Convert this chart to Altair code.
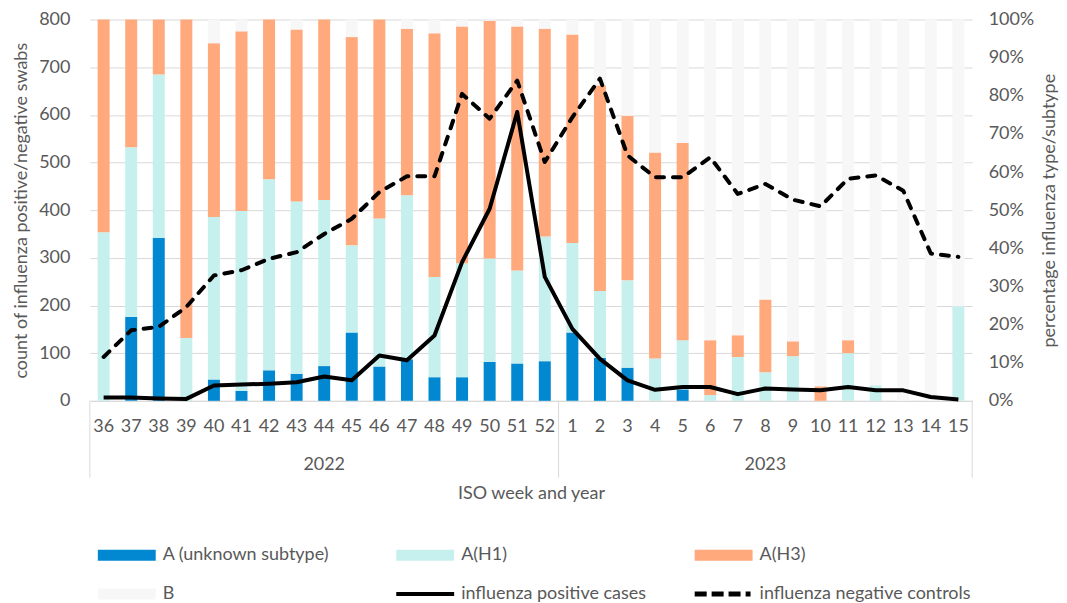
import altair as alt
import pandas as pd

# ---- data ----
weeks = ["36", "37", "38", "39", "40", "41", "42", "43", "44", "45", "46", "47", "48", "49", "50", "51", "52",
         "1", "2", "3", "4", "5", "6", "7", "8", "9", "10", "11", "12", "13", "14", "15"]
years = ["2022", "2023"]
year_mid_weeks = ["44", "8"]

# percentage of influenza type/subtype (right axis)
a_unknown = [0, 22.0, 42.7, 0, 5.6, 2.6, 8.0, 7.1, 9.1, 17.9, 9.0, 10.9, 6.2, 6.2, 10.2, 9.8, 10.4,
             17.9, 11.3, 8.7, 0, 3.0, 0, 0, 0, 0, 0, 0, 0, 0, 0, 0]
a_h1 = [44.2, 44.5, 42.9, 16.5, 42.6, 47.2, 50.1, 45.2, 43.6, 22.9, 38.8, 43.0, 26.3, 29.9, 27.1, 24.4, 32.7,
        23.5, 17.5, 22.9, 11.1, 12.9, 1.5, 11.5, 7.5, 11.7, 0, 12.5, 4.1, 0, 0, 24.8]
a_h3 = [55.8, 33.5, 14.4, 83.5, 45.6, 47.1, 41.9, 45.1, 47.3, 54.6, 52.2, 43.7, 63.9, 62.1, 62.4, 64.0, 54.5,
        54.7, 53.9, 43.2, 54.0, 51.7, 14.4, 5.7, 19.1, 3.9, 3.8, 3.4, 0, 0, 0, 0]
b_type = [0, 0, 0, 0, 6.2, 3.1, 0, 2.6, 0, 4.6, 0, 2.4, 3.6, 1.8, 0.3, 1.8, 2.4,
          3.9, 17.3, 25.2, 34.9, 32.4, 84.1, 82.8, 73.4, 84.4, 96.2, 84.1, 95.9, 100, 100, 75.2]

# counts (left axis)
positive_cases = [7, 7, 5, 4, 32, 34, 36, 39, 51, 43, 95, 85, 137, 291, 403, 606, 260,
                  151, 88, 43, 23, 29, 29, 14, 26, 24, 22, 29, 22, 22, 8, 3]
negative_controls = [92, 148, 155, 197, 263, 274, 298, 312, 350, 382, 438, 471, 471, 644, 592, 672, 501,
                     595, 676, 515, 469, 469, 511, 434, 455, 422, 408, 466, 473, 441, 309, 302]

bar_types = ["A (unknown subtype)", "A(H1)", "A(H3)", "B"]
line_names = ["influenza positive cases", "influenza negative controls"]
legend_names = bar_types + line_names
bar_colors = ["#0288D1", "#C5F0EE", "#FFA97C", "#F7F7F7"]
legend_colors = bar_colors + ["#000000", "#000000"]
legend_shapes = [
    "M-1,-0.38H3V0.38H-1Z",
    "M-1,-0.38H3V0.38H-1Z",
    "M-1,-0.38H3V0.38H-1Z",
    "M-1,-0.38H3V0.38H-1Z",
    "M-1,-0.14H3V0.14H-1Z",
    "M-1,-0.17H-0.17V0.17H-1Z M0.17,-0.17H1V0.17H0.17Z M1.34,-0.17H2.17V0.17H1.34Z M2.52,-0.17H2.86V0.17H2.52Z",
]

# ---- tables ----
rows = []
for i, w in enumerate(weeks):
    for k, (name, vals) in enumerate(zip(bar_types, [a_unknown, a_h1, a_h3, b_type])):
        rows.append({"week": w, "type": name, "pct": vals[i], "ord": k})
bars_df = pd.DataFrame(rows)
lines_df = pd.DataFrame({"week": weeks, "positive": positive_cases, "negative": negative_controls})
years_df = pd.DataFrame({"year": years, "mid": year_mid_weeks})
left_div_df = pd.DataFrame({"week": ["36", "1"]})
right_div_df = pd.DataFrame({"week": ["15"]})
legend_df = pd.DataFrame({"series": legend_names})

W, H = 884, 382
FONT = "Lato"
FS = 18
GREY = "#595959"
GRID = "#D9D9D9"

xscale = alt.Scale(domain=weeks, type="band", paddingInner=0, paddingOuter=0)

x_axis = alt.Axis(title="ISO week and year", labelAngle=0, ticks=False, labelPadding=17,
                  domainColor=GRID, labelFontSize=FS, titleFontSize=FS, titleFontWeight="normal",
                  labelColor=GREY, titleColor=GREY, titlePadding=49, labelFont=FONT, titleFont=FONT)

bars = alt.Chart(bars_df).mark_bar(size=12).encode(
    x=alt.X("week:N", scale=xscale, axis=x_axis),
    y=alt.Y("pct:Q", stack="zero",
            scale=alt.Scale(domain=[0, 100], nice=False),
            axis=alt.Axis(orient="right", values=list(range(0, 101, 10)), labelExpr="datum.value + '%'",
                          title="percentage influenza type/subtype", titleAngle=270, grid=False,
                          domain=False, ticks=False, labelPadding=16, titlePadding=25,
                          labelFontSize=FS, titleFontSize=FS, titleFontWeight="normal",
                          labelColor=GREY, titleColor=GREY, labelFont=FONT, titleFont=FONT)),
    color=alt.Color("type:N", scale=alt.Scale(domain=bar_types, range=bar_colors), legend=None),
    order=alt.Order("ord:Q", sort="ascending"),
)

left_y = alt.Axis(orient="left", values=list(range(0, 801, 100)), title="count of influenza positive/negative swabs",
                  grid=True, gridColor=GRID, domain=False, ticks=False, labelPadding=20, titlePadding=8,
                  labelFontSize=FS, titleFontSize=FS, titleFontWeight="normal",
                  labelColor=GREY, titleColor=GREY, labelFont=FONT, titleFont=FONT)
yscale = alt.Scale(domain=[0, 800], nice=False)

pos_line = alt.Chart(lines_df).mark_line(color="black", strokeWidth=4, strokeJoin="round").encode(
    x=alt.X("week:N", scale=xscale, axis=x_axis),
    y=alt.Y("positive:Q", scale=yscale, axis=left_y),
)
neg_line = alt.Chart(lines_df).mark_line(color="black", strokeWidth=4, strokeDash=[8, 9], strokeCap="round",
                                         strokeJoin="round").encode(
    x=alt.X("week:N", scale=xscale, axis=x_axis),
    y=alt.Y("negative:Q", scale=yscale, axis=left_y),
)

year_text = alt.Chart(years_df).mark_text(fontSize=FS, color=GREY, font=FONT, baseline="middle").encode(
    x=alt.X("mid:N", scale=xscale, axis=x_axis),
    y=alt.value(H + 64),
    text="year:N",
)

left_div = alt.Chart(left_div_df).mark_rule(color=GRID, strokeWidth=1).encode(
    x=alt.X("week:N", scale=xscale, axis=x_axis, bandPosition=0),
    y=alt.value(H), y2=alt.value(H + 77),
)
right_div = alt.Chart(right_div_df).mark_rule(color=GRID, strokeWidth=1).encode(
    x=alt.X("week:N", scale=xscale, axis=x_axis, bandPosition=1),
    y=alt.value(H), y2=alt.value(H + 77),
)

leg = alt.Legend(orient="none", legendX=8, legendY=H + 140, columns=3, direction="horizontal",
                 gridAlign="all", columnPadding=22, rowPadding=15, title=None, symbolSize=841,
                 symbolStrokeWidth=0, labelOffset=36, labelFontSize=FS,
                 labelColor=GREY, labelFont=FONT, labelLimit=400)

legend_layer = alt.Chart(legend_df).mark_point(filled=True, size=841, clip=True, opacity=1).encode(
    x=alt.value(-60), y=alt.value(-60),
    color=alt.Color("series:N", scale=alt.Scale(domain=legend_names, range=legend_colors), legend=leg),
    shape=alt.Shape("series:N", scale=alt.Scale(domain=legend_names, range=legend_shapes), legend=leg),
)

lines = alt.layer(pos_line, neg_line)
chart = alt.layer(bars, lines, year_text, left_div, right_div, legend_layer).resolve_scale(
    y="independent", color="independent", shape="independent"
).resolve_legend(
    color="independent", shape="independent"
).properties(
    width=W, height=H, padding={"left": 4, "top": 2, "right": 0, "bottom": 0}
).configure_view(stroke=None)

chart.save("out.html", embed_options={"renderer": "svg", "actions": False})
